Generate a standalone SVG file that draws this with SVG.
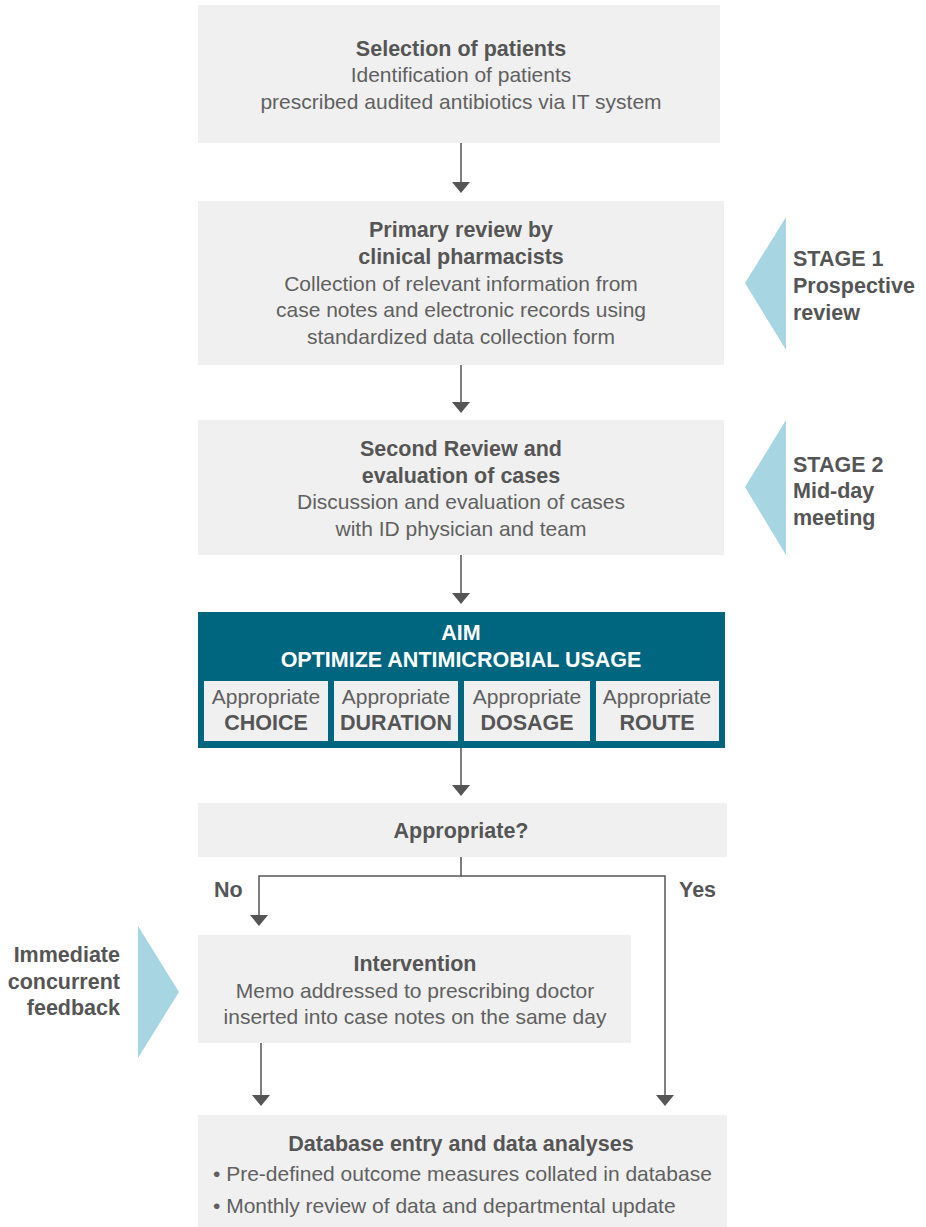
<svg xmlns="http://www.w3.org/2000/svg" width="926" height="1227" viewBox="0 0 926 1227">
<style>
.box{fill:#f0f0f0}
.t{font-family:"Liberation Sans",Arial,sans-serif;font-size:21px;fill:#606060;text-anchor:middle}
.b{font-weight:bold;fill:#555;font-size:21.5px}
.w{fill:#fff;font-weight:bold;font-size:21.5px}
.s{text-anchor:start}
.lbl{font-family:"Liberation Sans",Arial,sans-serif;font-size:21.5px;font-weight:bold;fill:#555}
.conn{stroke:#555;stroke-width:1.5;fill:none}
.ah{fill:#555}
.tri{fill:#a8d5e2}
</style>

<g id="connectors">
<line class="conn" x1="461" y1="143" x2="461" y2="182"/>
<polygon class="ah" points="452,182 470,182 461,193"/>
<line class="conn" x1="461" y1="365" x2="461" y2="402"/>
<polygon class="ah" points="452,402 470,402 461,413"/>
<line class="conn" x1="461" y1="555" x2="461" y2="593"/>
<polygon class="ah" points="452,593 470,593 461,604"/>
<line class="conn" x1="461" y1="748" x2="461" y2="785"/>
<polygon class="ah" points="452,785 470,785 461,796"/>
<polyline class="conn" points="461,857 461,876 259,876 259,915"/>
<polygon class="ah" points="250,915 268,915 259,926"/>
<polyline class="conn" points="461,876 665,876 665,1095"/>
<polygon class="ah" points="656,1095 674,1095 665,1106"/>
<line class="conn" x1="261" y1="1043" x2="261" y2="1095"/>
<polygon class="ah" points="252,1095 270,1095 261,1106"/>
</g>

<g id="n1">
<rect class="box" x="198" y="5" width="522" height="138"/>
<text class="t b" x="461" y="56">Selection of patients</text>
<text class="t" x="461" y="82">Identification of patients</text>
<text class="t" x="461" y="109">prescribed audited antibiotics via IT system</text>
</g>

<g id="n2">
<rect class="box" x="198" y="201" width="526" height="164"/>
<text class="t b" x="461" y="237">Primary review by</text>
<text class="t b" x="461" y="264">clinical pharmacists</text>
<text class="t" x="461" y="291">Collection of relevant information from</text>
<text class="t" x="461" y="317">case notes and electronic records using</text>
<text class="t" x="461" y="344">standardized data collection form</text>
</g>

<g id="stage1">
<polygon class="tri" points="786,217 745,283 786,350"/>
<text class="lbl" x="793" y="266">STAGE 1</text>
<text class="lbl" x="793" y="293">Prospective</text>
<text class="lbl" x="793" y="320">review</text>
</g>

<g id="n3">
<rect class="box" x="198" y="420" width="526" height="135"/>
<text class="t b" x="461" y="456">Second Review and</text>
<text class="t b" x="461" y="483">evaluation of cases</text>
<text class="t" x="461" y="509">Discussion and evaluation of cases</text>
<text class="t" x="461" y="536">with ID physician and team</text>
</g>

<g id="stage2">
<polygon class="tri" points="786,420 745,487 786,555"/>
<text class="lbl" x="793" y="472">STAGE 2</text>
<text class="lbl" x="793" y="498">Mid-day</text>
<text class="lbl" x="793" y="525">meeting</text>
</g>

<g id="aim">
<rect x="198" y="612" width="527" height="136" fill="#00667f"/>
<text class="t w" x="461" y="640">AIM</text>
<text class="t w" x="461" y="667">OPTIMIZE ANTIMICROBIAL USAGE</text>
<rect class="box" x="204" y="681" width="124" height="60"/>
<rect class="box" x="334" y="681" width="124" height="60"/>
<rect class="box" x="464" y="681" width="126" height="60"/>
<rect class="box" x="596" y="681" width="123" height="60"/>
<text class="t" x="266" y="704">Appropriate</text>
<text class="t b" x="266" y="730">CHOICE</text>
<text class="t" x="396" y="704">Appropriate</text>
<text class="t b" x="396" y="730">DURATION</text>
<text class="t" x="527" y="704">Appropriate</text>
<text class="t b" x="527" y="730">DOSAGE</text>
<text class="t" x="657" y="704">Appropriate</text>
<text class="t b" x="657" y="730">ROUTE</text>
</g>

<g id="decision">
<rect class="box" x="198" y="803" width="529" height="54"/>
<text class="t b" x="461" y="838">Appropriate?</text>
</g>

<g id="branch-labels">
<text class="lbl" x="214" y="897">No</text>
<text class="lbl" x="679" y="897">Yes</text>
</g>

<g id="feedback">
<polygon class="tri" points="138,926 179,992 138,1058"/>
<text class="lbl" x="120" y="962" text-anchor="end">Immediate</text>
<text class="lbl" x="120" y="989" text-anchor="end">concurrent</text>
<text class="lbl" x="120" y="1015" text-anchor="end">feedback</text>
</g>

<g id="intervention">
<rect class="box" x="198" y="935" width="433" height="108"/>
<text class="t b" x="415" y="971">Intervention</text>
<text class="t" x="415" y="998">Memo addressed to prescribing doctor</text>
<text class="t" x="415" y="1024">inserted into case notes on the same day</text>
</g>

<g id="database">
<rect class="box" x="198" y="1115" width="529" height="112"/>
<text class="t b" x="461" y="1151">Database entry and data analyses</text>
<text class="t s" x="213" y="1181">• Pre-defined outcome measures collated in database</text>
<text class="t s" x="213" y="1213">• Monthly review of data and departmental update</text>
</g>
</svg>
